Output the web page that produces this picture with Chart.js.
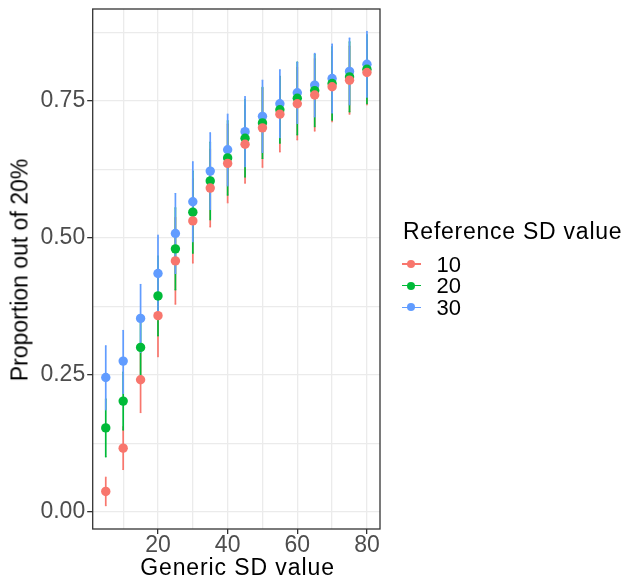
<!DOCTYPE html>
<html>
<head>
<meta charset="utf-8">
<script src="https://cdn.jsdelivr.net/npm/chart.js@4.4.1/dist/chart.umd.min.js"></script>
<style>
  html, body { margin: 0; padding: 0; background: #ffffff; }
  #wrap { position: relative; width: 627px; height: 583px; background: #ffffff; overflow: hidden;
          font-family: "Liberation Sans", Arial, sans-serif; }
  #c { position: absolute; left: 0; top: 0; }
  .txt { position: absolute; line-height: 1; white-space: nowrap; color: #000; }
  .sym { position: absolute; }
  .sym .ln { position: absolute; left: 0; top: -0.75px; width: 19px; height: 1.5px; }
  .sym .dt { position: absolute; left: 5.5px; top: -4px; width: 8px; height: 8px; border-radius: 50%; }
</style>
</head>
<body>
<div id="wrap">
  <canvas id="c" width="627" height="583"></canvas>
  <div class="txt" id="xTitle" style="left:0; width:475px; text-align:center; top:556.3px; font-size:23px; letter-spacing:0.9px;">Generic SD value</div>
  <div class="txt" id="yTitle" style="left:20.2px; top:269.7px; font-size:23px; transform: translate(-50%,-50%) rotate(-90deg);">Proportion out of 20%</div>
  <div class="txt" id="legTitle" style="left:403px; top:220.3px; font-size:23px; letter-spacing:0.75px;">Reference SD value</div>
</div>
<script>
// ---- data ----
const sdValues = [5, 10, 15, 20, 25, 30, 35, 40, 45, 50, 55, 60, 65, 70, 75, 80];

const ref10Mean  = [0.037, 0.116, 0.241, 0.358, 0.458, 0.531, 0.591, 0.636, 0.671, 0.701, 0.726, 0.745, 0.761, 0.776, 0.788, 0.802];
const ref10Lower = [0.011, 0.077, 0.181, 0.283, 0.379, 0.454, 0.520, 0.564, 0.600, 0.629, 0.657, 0.679, 0.695, 0.712, 0.726, 0.743];
const ref10Upper = [0.063, 0.155, 0.301, 0.433, 0.537, 0.608, 0.662, 0.708, 0.742, 0.773, 0.795, 0.811, 0.827, 0.840, 0.850, 0.861];

const ref20Mean  = [0.153, 0.202, 0.300, 0.394, 0.480, 0.547, 0.604, 0.646, 0.682, 0.710, 0.734, 0.755, 0.769, 0.782, 0.794, 0.808];
const ref20Lower = [0.100, 0.149, 0.240, 0.321, 0.405, 0.472, 0.533, 0.578, 0.611, 0.645, 0.673, 0.688, 0.703, 0.715, 0.730, 0.745];
const ref20Upper = [0.206, 0.255, 0.360, 0.467, 0.555, 0.622, 0.675, 0.714, 0.753, 0.775, 0.795, 0.821, 0.835, 0.849, 0.858, 0.871];

const ref30Mean  = [0.245, 0.275, 0.353, 0.435, 0.508, 0.566, 0.622, 0.661, 0.694, 0.722, 0.745, 0.765, 0.779, 0.791, 0.804, 0.817];
const ref30Lower = [0.186, 0.216, 0.291, 0.365, 0.435, 0.493, 0.552, 0.595, 0.630, 0.656, 0.683, 0.709, 0.721, 0.728, 0.743, 0.757];
const ref30Upper = [0.303, 0.331, 0.415, 0.505, 0.581, 0.639, 0.692, 0.726, 0.758, 0.788, 0.807, 0.821, 0.837, 0.854, 0.865, 0.877];

const seriesNames = ['10', '20', '30'];
const seriesColors = ['#F8766D', '#00BA38', '#619CFF'];

const xTickLabels = [20, 40, 60, 80];
const yTickLabels = [0, 0.25, 0.5, 0.75];

// ---- build ----
const means = [ref10Mean, ref20Mean, ref30Mean];
const lowers = [ref10Lower, ref20Lower, ref30Lower];
const uppers = [ref10Upper, ref20Upper, ref30Upper];

const datasets = seriesNames.map((name, s) => ({
  label: name,
  data: sdValues.map((x, i) => ({ x: x, y: means[s][i], lo: lowers[s][i], hi: uppers[s][i] })),
  backgroundColor: seriesColors[s],
  borderColor: seriesColors[s],
  borderWidth: 0,
  pointRadius: 4.7,
  pointHoverRadius: 4.7,
  showLine: false
}));

const isMajor = (v, list) => list.some(t => Math.abs(t - v) < 1e-6);

const errorBars = {
  id: 'errorBars',
  beforeDatasetsDraw(chart) {
    const ctx = chart.ctx, xs = chart.scales.x, ys = chart.scales.y, ca = chart.chartArea;
    ctx.save();
    ctx.beginPath();
    ctx.rect(ca.left, ca.top, ca.right - ca.left, ca.bottom - ca.top);
    ctx.clip();
    chart.data.datasets.forEach((ds) => {
      ctx.strokeStyle = ds.borderColor;
      ds.data.forEach(p => {
        const px = xs.getPixelForValue(p.x);
        const y1 = ys.getPixelForValue(p.lo);
        const y2 = ys.getPixelForValue(p.hi);
        ctx.lineWidth = 1.7;
        ctx.beginPath();
        ctx.moveTo(px, y1); ctx.lineTo(px, y2);
        ctx.stroke();
        ctx.lineWidth = 1;
        ctx.beginPath();
        ctx.moveTo(px - 0.8, y1); ctx.lineTo(px + 0.8, y1);
        ctx.moveTo(px - 0.8, y2); ctx.lineTo(px + 0.8, y2);
        ctx.stroke();
      });
    });
    ctx.restore();
  }
};

const panelBorder = {
  id: 'panelBorder',
  afterDraw(chart) {
    const ctx = chart.ctx, ca = chart.chartArea;
    ctx.save();
    ctx.strokeStyle = '#333333';
    ctx.lineWidth = 1.3;
    ctx.strokeRect(ca.left, ca.top, ca.right - ca.left, ca.bottom - ca.top);
    ctx.restore();
  }
};

const tickFont = { family: '"Liberation Sans", Arial, sans-serif', size: 23 };

new Chart(document.getElementById('c'), {
  type: 'scatter',
  data: { datasets: datasets },
  options: {
    responsive: false,
    devicePixelRatio: 1,
    animation: false,
    events: [],
    layout: { padding: { top: 9, right: 247, bottom: 0, left: 0 } },
    plugins: { legend: { display: false }, tooltip: { enabled: false } },
    scales: {
      x: {
        type: 'linear',
        min: 1.25, max: 83.75,
        afterFit: (s) => { s.height = 54; s.paddingLeft = 0; s.paddingRight = 0; },
        border: { display: false },
        grid: {
          color: '#EBEBEB', lineWidth: 1.3,
          tickLength: 5,
          tickWidth: 1.3,
          tickColor: (c) => isMajor(c.tick.value, xTickLabels) ? '#333333' : 'rgba(0,0,0,0)'
        },
        ticks: {
          stepSize: 10,
          includeBounds: false,
          maxRotation: 0,
          autoSkip: false,
          padding: -2.5,
          color: '#4D4D4D',
          font: tickFont,
          callback: (v) => isMajor(v, xTickLabels) ? String(v) : ''
        }
      },
      y: {
        type: 'linear',
        min: -0.0316, max: 0.918,
        afterFit: (s) => { s.width = 92.7; s.paddingTop = 0; s.paddingBottom = 0; },
        border: { display: false },
        grid: {
          color: '#EBEBEB', lineWidth: 1.3,
          tickLength: 5.5,
          tickWidth: 1.3,
          tickColor: (c) => isMajor(c.tick.value, yTickLabels) ? '#333333' : 'rgba(0,0,0,0)'
        },
        ticks: {
          stepSize: 0.125,
          includeBounds: false,
          autoSkip: false,
          padding: 2,
          color: '#4D4D4D',
          font: tickFont,
          callback: (v) => isMajor(v, yTickLabels) ? v.toFixed(2) : ''
        }
      }
    }
  },
  plugins: [errorBars, panelBorder]
});

// ---- legend (HTML text) ----
const wrap = document.getElementById('wrap');
const legendRowCenters = [264, 285.7, 307.4];
seriesNames.forEach((name, s) => {
  const sym = document.createElement('div');
  sym.className = 'sym';
  sym.style.left = '401.7px';
  sym.style.top = legendRowCenters[s] + 'px';
  sym.innerHTML = '<div class="ln" style="background:' + seriesColors[s] + '"></div>' +
                  '<div class="dt" style="background:' + seriesColors[s] + '"></div>';
  wrap.appendChild(sym);
  const t = document.createElement('div');
  t.className = 'txt';
  t.style.left = '436.5px';
  t.style.fontSize = '22px';
  t.style.top = (legendRowCenters[s] - 7.5 - 0.1305 * 22) + 'px';
  t.textContent = name;
  wrap.appendChild(t);
});
</script>
</body>
</html>
